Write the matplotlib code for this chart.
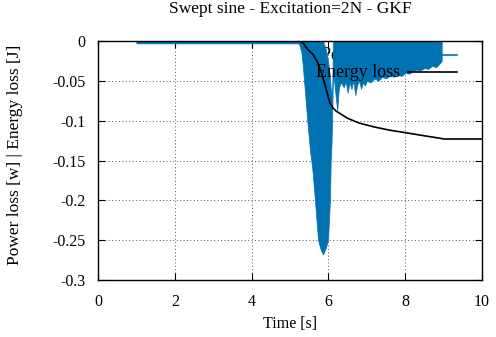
import matplotlib
matplotlib.use("Agg")
import matplotlib.pyplot as plt

# power loss envelope (signal oscillates between hi and lo)
power_t = [1.0, 5.2, 5.24, 5.3, 5.34, 5.4, 5.45, 5.52, 5.58, 5.65, 5.73, 5.8, 5.86,
           5.93, 5.99, 6.04, 6.06, 6.08, 6.1, 6.12, 6.15, 6.19, 6.23, 6.27, 6.32,
           6.4, 6.45, 6.5, 6.55, 6.6, 6.65, 6.7, 6.75, 6.8, 6.85, 6.9, 6.95, 7.0,
           7.1, 7.2, 7.3, 7.4, 7.5, 7.6, 7.7, 7.8, 7.9, 8.0, 8.1, 8.2, 8.3, 8.4,
           8.5, 8.6, 8.7, 8.8, 8.9, 8.95]
power_lo = [-0.003, -0.003, -0.004, -0.015, -0.035, -0.07, -0.1, -0.137, -0.16, -0.2,
            -0.25, -0.262, -0.268, -0.26, -0.25, -0.2, -0.15, -0.13, -0.09, -0.04,
            -0.05, -0.07, -0.087, -0.06, -0.052,
            -0.058, -0.05, -0.065, -0.052, -0.06, -0.05, -0.068, -0.055, -0.05,
            -0.06, -0.052, -0.056, -0.05,
            -0.052, -0.047, -0.05, -0.045, -0.047, -0.043, -0.045, -0.042, -0.044,
            -0.04, -0.041, -0.038, -0.036, -0.037, -0.034, -0.035, -0.031, -0.033,
            -0.028, -0.025]
power_hi = [0, 0, 0, 0, 0, 0, 0, 0, 0, 0, 0, 0, 0,
            -0.01, -0.025, -0.045, -0.06, -0.07, -0.06, 0,
            0, 0, 0, 0, 0,
            0, 0, 0, 0, 0, 0, 0, 0, 0, 0, 0, 0, 0,
            0, 0, 0, 0, 0, 0, 0, 0, 0, 0, 0, 0, 0, 0,
            0, 0, 0, 0, 0, 0]

# energy loss
energy_t = [0, 5.25, 5.35, 5.45, 5.6, 5.7, 5.8, 5.87, 5.95, 6.04, 6.12, 6.2, 6.3,
            6.5, 6.8, 7.2, 7.6, 8.0, 8.5, 8.9, 9.0, 10]
energy = [0, 0, -0.003, -0.01, -0.017, -0.025, -0.037, -0.048, -0.062, -0.078,
          -0.084, -0.088, -0.091, -0.097, -0.103, -0.108, -0.112, -0.115, -0.119,
          -0.122, -0.123, -0.123]

xticks = [0, 2, 4, 6, 8, 10]
yticks = [0, -0.05, -0.1, -0.15, -0.2, -0.25, -0.3]
ytick_labels = ["0", "-0.05", "-0.1", "-0.15", "-0.2", "-0.25", "-0.3"]

plt.rcParams['font.family'] = ['Liberation Serif', 'DejaVu Serif']
plt.rcParams['axes.unicode_minus'] = False

blue = '#0072b2'
W, H = 496, 337

fig = plt.figure(figsize=(W / 100, H / 100), dpi=100)
ax = fig.add_axes([98 / W, 1 - 280 / H, 384 / W, 239 / H])

# gnuplot-ish key: each entry drawn just before its curve
ax.text(0.786, 0.941, "Power loss", transform=ax.transAxes, ha='right', va='center',
        fontsize=13, zorder=2)
ax.plot([0.807, 0.935], [0.941, 0.941], transform=ax.transAxes, color=blue, lw=1.2, zorder=2)
ax.fill_between(power_t, power_lo, power_hi, color=blue, lw=0.5, edgecolor=blue, zorder=3)

ax.text(0.786, 0.870, "Energy loss", transform=ax.transAxes, ha='right', va='center',
        fontsize=13, zorder=4)
ax.plot([0.807, 0.935], [0.870, 0.870], transform=ax.transAxes, color='black', lw=1.2, zorder=4)
ax.plot(energy_t, energy, color='black', lw=1.2, zorder=5)

ax.set_xlim(0, 10)
ax.set_ylim(-0.3, 0)
ax.set_xticks(xticks)
ax.set_yticks(yticks)
ax.set_yticklabels(ytick_labels)
ax.tick_params(direction='in', length=5, width=0.8, top=True, right=True,
               labelsize=11.5)
ax.tick_params(axis='y', pad=9)
ax.tick_params(axis='x', pad=10)
ax.grid(True, linestyle=(0, (1, 2.5)), color='#555555', lw=0.7)
ax.set_axisbelow(True)
for s in ax.spines.values():
    s.set_linewidth(1.0)
    s.set_zorder(6)

fig.text(290 / W, 1 - 9 / H, "Swept sine - Excitation=2N - GKF", fontsize=12.5,
         ha='center', va='center')
fig.text(290 / W, 1 - 324 / H, "Time [s]", fontsize=11.5, ha='center', va='center')
fig.text(15 / W, 1 - 155 / H, "Power loss [w] | Energy loss [J]", fontsize=12.5,
         ha='center', va='center', rotation=90)

fig.savefig("out.png", dpi=100)
